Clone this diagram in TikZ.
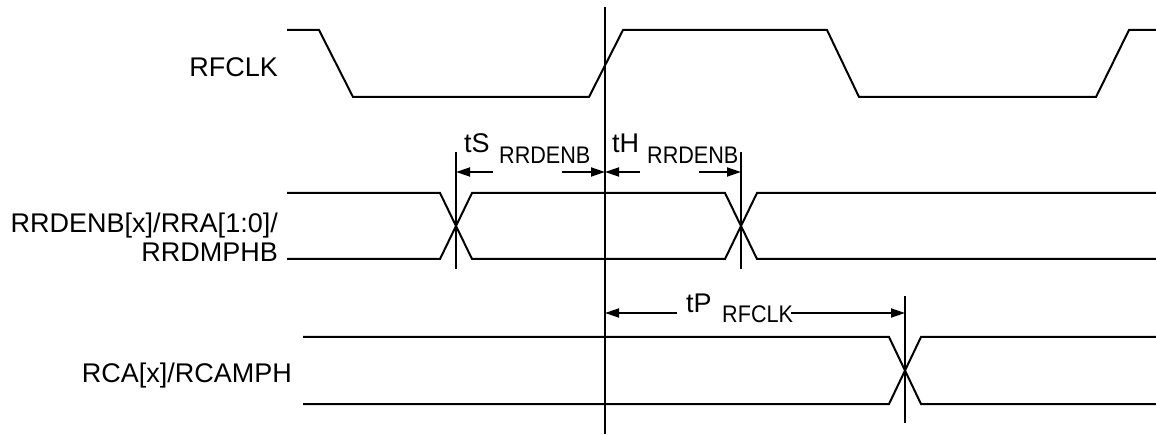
\documentclass[tikz,border=0pt]{standalone}
\usepackage{fontspec}
\setmainfont{Liberation Sans}
\newfontfamily\subfont[FakeStretch=0.9]{Liberation Sans}
\usetikzlibrary{arrows.meta}
\begin{document}
\begin{tikzpicture}[x=1pt,y=-1pt,
  sig/.style={line width=2pt,line join=miter},
  refline/.style={line width=1.8pt},
  dim/.style={line width=1.8pt,-{Triangle[length=14pt,width=9pt]}},
  lbl/.style={inner sep=0pt,font=\fontsize{27}{30}\selectfont},
  tlbl/.style={inner sep=0pt,font=\fontsize{27}{30}\selectfont,anchor=base west},
  tsub/.style={inner sep=0pt,font=\subfont\fontsize{24}{28}\selectfont,anchor=base west}]
\useasboundingbox (0,0) rectangle (1156,435);
% labels
\node[lbl,anchor=base east] (lclk) at (278,77) {RFCLK};
\node[lbl,anchor=base east] (lrr1) at (278,233) {RRDENB[x]/RRA[1:0]/};
\node[lbl,anchor=base east] (lrr2) at (278,262) {RRDMPHB};
\node[lbl,anchor=base east] (lrca) at (292,382) {RCA[x]/RCAMPH};
% clock
\draw[sig] (287,30) -- (319,30) -- (353,97) -- (589,97) -- (623,30) -- (827,30) -- (859,97) -- (1096,97) -- (1129,30) -- (1156,30);
% data row
\draw[sig] (287,193) -- (440,193) -- (472,259) -- (725,259) -- (757,193) -- (1156,193);
\draw[sig] (287,259) -- (440,259) -- (472,193) -- (725,193) -- (757,259) -- (1156,259);
% RCA row
\draw[sig] (303,337) -- (889,337) -- (921,404) -- (1156,404);
\draw[sig] (303,404) -- (889,404) -- (921,337) -- (1156,337);
% reference lines
\coordinate (mtop) at (605,7);
\coordinate (mbot) at (605,434);
\coordinate (stop) at (456,152);
\coordinate (sbot) at (456,269);
\coordinate (htop) at (741,152);
\coordinate (hbot) at (741,269);
\coordinate (ptop) at (905,296);
\coordinate (pbot) at (905,423);
\draw[refline] (mtop) -- (mbot);
\draw[refline] (stop) -- (sbot);
\draw[refline] (htop) -- (hbot);
\draw[refline] (ptop) -- (pbot);
% dimension arrows
\coordinate (sa) at (456,172);
\coordinate (sb) at (493,172);
\coordinate (sc) at (562,172);
\coordinate (md1) at (605,172);
\coordinate (ha) at (640,172);
\coordinate (hb) at (699,172);
\coordinate (hc) at (741,172);
\coordinate (md2) at (605,313);
\coordinate (pa) at (677,313);
\coordinate (pb) at (791,313);
\coordinate (pc) at (905,313);
\draw[dim] (sb) -- (sa);
\draw[dim] (sc) -- (md1);
\draw[dim] (ha) -- (md1);
\draw[dim] (hb) -- (hc);
\draw[dim] (pa) -- (md2);
\draw[dim] (pb) -- (pc);
% timing labels
\node[tlbl] (ts) at (464,153) {tS};
\node[tsub] (tss) at (499,164) {RRDENB};
\node[tlbl] (th) at (612,153) {tH};
\node[tsub] (ths) at (647,164) {RRDENB};
\node[tlbl] (tp) at (686,313) {tP};
\node[tsub] (tps) at (722,323) {RFCLK};
\end{tikzpicture}
\end{document}
